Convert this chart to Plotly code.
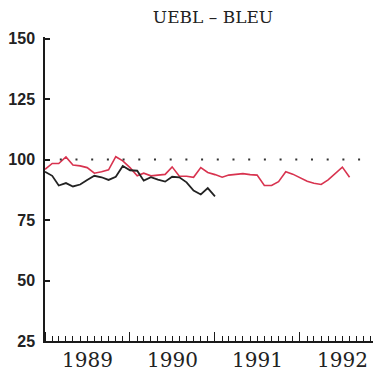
import plotly.graph_objects as go
import pandas as pd

title_text = "UEBL – BLEU"
reference_level = 100

red_dates = pd.date_range("1989-01-01", periods=44, freq="MS")
red_values = [96.0, 98.4, 98.4, 101.1, 97.8, 97.4, 96.7, 94.4, 95.0, 95.8, 101.2, 99.5,
              96.7, 93.3, 94.4, 93.3, 93.6, 93.9, 97.0, 93.1, 93.1, 92.7, 96.7, 94.7,
              93.8, 92.7, 93.6, 94.0, 94.2, 93.8, 93.6, 89.3, 89.3, 90.9, 95.0, 94.0,
              92.4, 91.1, 90.2, 89.7, 91.6, 94.4, 96.9, 92.7]

black_dates = pd.date_range("1989-01-01", periods=25, freq="MS")
black_values = [95.0, 93.3, 89.3, 90.3, 88.9, 89.7, 91.6, 93.3, 92.7, 91.6, 92.9, 97.4,
                95.6, 95.4, 91.3, 92.7, 91.7, 90.9, 92.9, 92.7, 90.6, 87.2, 85.6, 88.2, 84.8]

y_ticks = [25, 50, 75, 100, 125, 150]

# page body has an 8px default margin: figure is sized/offset to compensate
fig = go.Figure()
fig.add_trace(go.Scatter(x=red_dates, y=red_values, mode="lines",
                         line=dict(color="#d8334f", width=1.6), showlegend=False))
fig.add_trace(go.Scatter(x=black_dates, y=black_values, mode="lines",
                         line=dict(color="#222222", width=1.8), showlegend=False))

fig.add_shape(type="line", xref="paper", yref="y", x0=0.044, x1=1, y0=reference_level, y1=reference_level,
              line=dict(color="#333333", width=2, dash="2px,13.7px"))

fig.update_layout(
    width=373, height=369,
    margin=dict(l=31, r=0, t=29, b=36, pad=0),
    paper_bgcolor="white", plot_bgcolor="white",
    title=dict(text=title_text, x=0.5, xref="paper", y=1, yref="container",
               xanchor="center", yanchor="top", pad=dict(t=3, b=0, l=0, r=0),
               font=dict(family="DejaVu Serif", size=17, color="#222222")),
    xaxis=dict(range=["1989-01-01", "1992-12-14"], showline=True, linecolor="#1a1a1a", linewidth=1.5,
               showgrid=False, zeroline=False, ticks="inside", ticklen=9, tickwidth=1.4,
               tickcolor="#1a1a1a", dtick="M12", tickformat="%Y", ticklabelmode="period",
               tickfont=dict(family="DejaVu Serif", size=20, color="#222222"),
               minor=dict(ticks="inside", ticklen=5, dtick="M1", tickcolor="#1a1a1a", tickwidth=1.2)),
    yaxis=dict(range=[25, 150.7], showline=True, linecolor="#1a1a1a", linewidth=1.5,
               showgrid=False, zeroline=False, ticks="inside", ticklen=5, tickwidth=1.6,
               tickcolor="#1a1a1a", tickvals=y_ticks, ticklabelstandoff=5,
               tickfont=dict(family="Liberation Sans", size=16, color="#222222", weight="bold")),
)

fig.write_html("out.html")
